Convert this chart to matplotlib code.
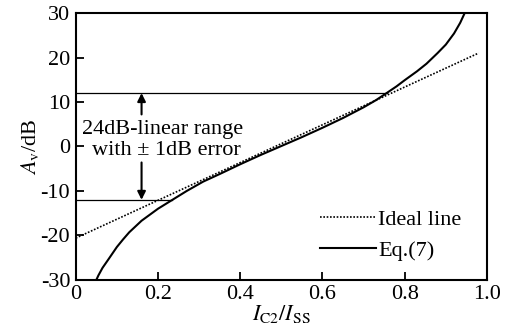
import matplotlib.pyplot as plt

plt.rcParams.update({
    "font.family": "Liberation Serif",
    "mathtext.fontset": "stix",
    "axes.unicode_minus": False,
    "font.size": 16,
})

# Eq.(7) curve
eq7_x = [0.05, 0.055, 0.065, 0.08, 0.10, 0.115, 0.13, 0.16, 0.20, 0.235, 0.27,
         0.31, 0.35, 0.40, 0.45, 0.50, 0.55, 0.60, 0.65, 0.70, 0.73, 0.756,
         0.78, 0.80, 0.83, 0.853, 0.88, 0.90, 0.92, 0.935, 0.946]
eq7_y = [-30.0, -29.0, -27.3, -25.3, -22.6, -20.9, -19.3, -16.7, -14.0, -12.0,
         -10.0, -7.9, -6.2, -4.0, -1.9, 0.1, 2.1, 4.2, 6.4, 8.8, 10.4, 12.0,
         13.5, 14.9, 16.9, 18.6, 21.0, 22.9, 25.4, 27.8, 30.0]

# ideal straight line
ideal_x = [0.0, 0.98]
ideal_y = [-20.6, 21.0]

# +-12 dB limits and where they meet the curve
limit_y = [12, -12]
limit_xend = [0.756, 0.235]

arrow_x = 0.16

fig = plt.figure(figsize=(5.12, 3.34), dpi=100)
ax = fig.add_axes([0.148, 0.162, 0.803, 0.799])

ax.plot(ideal_x, ideal_y, color="black", ls=(0, (1, 1)), lw=1.2, label="Ideal line")
ax.plot(eq7_x, eq7_y, color="black", lw=1.5, label="Eq.(7)")
for y, xe in zip(limit_y, limit_xend):
    ax.plot([0, xe], [y, y], color="black", lw=0.9)

ax.annotate("", xy=(arrow_x, 12), xytext=(arrow_x, 7.2),
            arrowprops=dict(arrowstyle="-|>", color="black", lw=1.5,
                            mutation_scale=12, shrinkA=0, shrinkB=0))
ax.annotate("", xy=(arrow_x, -12), xytext=(arrow_x, -3.6),
            arrowprops=dict(arrowstyle="-|>", color="black", lw=1.5,
                            mutation_scale=12, shrinkA=0, shrinkB=0))
ax.text(0.21, 3.8, "24dB-linear range", ha="center", va="center")
ax.text(0.22, -0.8, "with \u00b1 1dB error", ha="center", va="center")

ax.set_xlim(0, 1.0)
ax.set_ylim(-30, 30)
ax.set_xticks([0, 0.2, 0.4, 0.6, 0.8, 1.0])
ax.set_xticklabels(["0", "0.2", "0.4", "0.6", "0.8", "1.0"])
ax.set_yticks([-30, -20, -10, 0, 10, 20, 30])
ax.tick_params(direction="in", length=6, width=1.3, top=False, right=False)
ax.tick_params(axis="x", pad=4)
ax.tick_params(axis="y", pad=4)
for s in ax.spines.values():
    s.set_linewidth(1.5)

ax.set_xlabel(r"$I_{\mathrm{C2}}/I_{\mathrm{SS}}$", labelpad=-1)
ax.set_ylabel(r"$A_{\mathrm{v}}$/dB", labelpad=0)

ax.legend(loc="lower right", bbox_to_anchor=(0.965, 0.03), frameon=False,
          handlelength=2.5, handletextpad=0.1, labelspacing=0.45, borderpad=0)

fig.savefig("out.png", dpi=100)
